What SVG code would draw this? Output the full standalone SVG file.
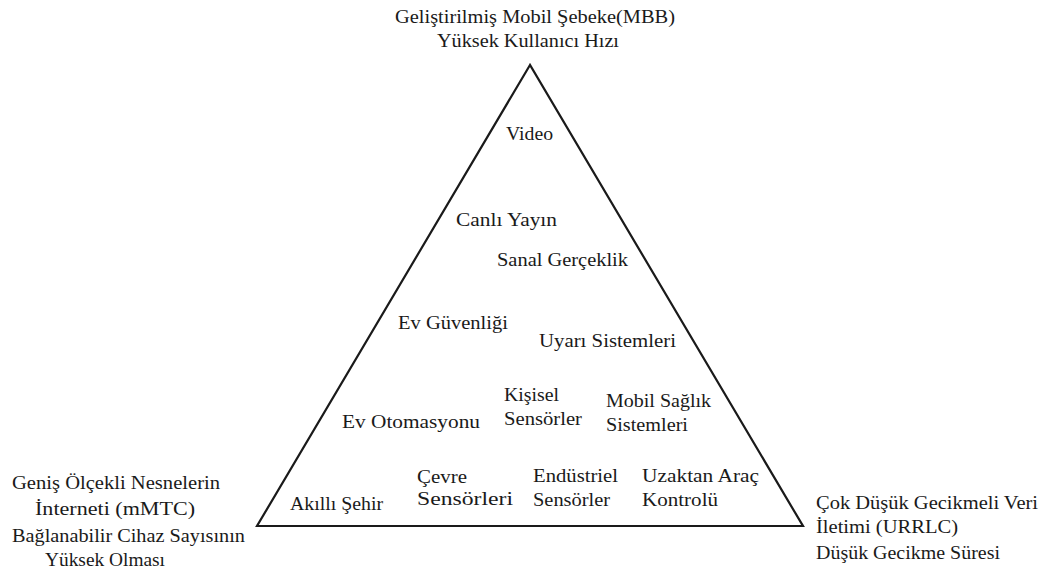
<svg xmlns="http://www.w3.org/2000/svg" width="1051" height="571" viewBox="0 0 1051 571" font-family="'Liberation Serif', 'DejaVu Serif', serif">
<style>
text{font-size:19px;fill:#1a1a1a}
.tri{fill:none;stroke:#1a1a1a;stroke-width:2.2;stroke-linejoin:miter}
</style>
<rect width="1051" height="571" fill="#ffffff"/>
<g id="connectors">
<polygon class="tri" points="530,65 257,526 803,526"/>
</g>
<g id="mbb">
<text x="395" y="23" textLength="280" lengthAdjust="spacingAndGlyphs">Geliştirilmiş Mobil Şebeke(MBB)</text>
<text x="437" y="47" textLength="182" lengthAdjust="spacingAndGlyphs">Yüksek Kullanıcı Hızı</text>
</g>
<g id="mmtc">
<text x="12" y="489" textLength="208" lengthAdjust="spacingAndGlyphs">Geniş Ölçekli Nesnelerin</text>
<text x="35" y="515" textLength="160" lengthAdjust="spacingAndGlyphs">İnterneti (mMTC)</text>
<text x="12" y="542" textLength="233" lengthAdjust="spacingAndGlyphs">Bağlanabilir Cihaz Sayısının</text>
<text x="45" y="566" textLength="120" lengthAdjust="spacingAndGlyphs">Yüksek Olması</text>
</g>
<g id="urrlc">
<text x="816" y="509" textLength="222" lengthAdjust="spacingAndGlyphs">Çok Düşük Gecikmeli Veri</text>
<text x="816" y="533" textLength="142" lengthAdjust="spacingAndGlyphs">İletimi (URRLC)</text>
<text x="816" y="559" textLength="184" lengthAdjust="spacingAndGlyphs">Düşük Gecikme Süresi</text>
</g>
<g id="video"><text x="506" y="140" textLength="47" lengthAdjust="spacingAndGlyphs">Video</text></g>
<g id="canli-yayin"><text x="456" y="226" textLength="101" lengthAdjust="spacingAndGlyphs">Canlı Yayın</text></g>
<g id="sanal-gerceklik"><text x="497" y="266" textLength="131" lengthAdjust="spacingAndGlyphs">Sanal Gerçeklik</text></g>
<g id="ev-guvenligi"><text x="398" y="329" textLength="110" lengthAdjust="spacingAndGlyphs">Ev Güvenliği</text></g>
<g id="uyari-sistemleri"><text x="539" y="347" textLength="137" lengthAdjust="spacingAndGlyphs">Uyarı Sistemleri</text></g>
<g id="ev-otomasyonu"><text x="342" y="428" textLength="138" lengthAdjust="spacingAndGlyphs">Ev Otomasyonu</text></g>
<g id="kisisel-sensorler">
<text x="504" y="401" textLength="55" lengthAdjust="spacingAndGlyphs">Kişisel</text>
<text x="504" y="425" textLength="78" lengthAdjust="spacingAndGlyphs">Sensörler</text>
</g>
<g id="mobil-saglik">
<text x="606" y="407" textLength="105" lengthAdjust="spacingAndGlyphs">Mobil Sağlık</text>
<text x="606" y="431" textLength="82" lengthAdjust="spacingAndGlyphs">Sistemleri</text>
</g>
<g id="akilli-sehir"><text x="290" y="510" textLength="93" lengthAdjust="spacingAndGlyphs">Akıllı Şehir</text></g>
<g id="cevre-sensorleri">
<text x="417" y="483" textLength="50" lengthAdjust="spacingAndGlyphs">Çevre</text>
<text x="417" y="505" textLength="96" lengthAdjust="spacingAndGlyphs">Sensörleri</text>
</g>
<g id="endustriel-sensorler">
<text x="533" y="482" textLength="85" lengthAdjust="spacingAndGlyphs">Endüstriel</text>
<text x="533" y="506" textLength="77" lengthAdjust="spacingAndGlyphs">Sensörler</text>
</g>
<g id="uzaktan-arac">
<text x="642" y="482" textLength="117" lengthAdjust="spacingAndGlyphs">Uzaktan Araç</text>
<text x="642" y="506" textLength="76" lengthAdjust="spacingAndGlyphs">Kontrolü</text>
</g>
</svg>
